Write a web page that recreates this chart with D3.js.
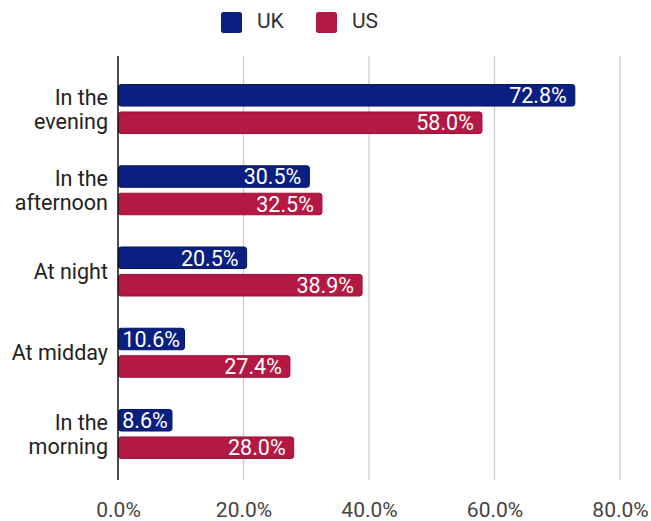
<!DOCTYPE html>
<html>
<head>
<meta charset="utf-8">
<script src="https://cdn.jsdelivr.net/npm/d3@7"></script>
<style>
    body { margin: 0; background: #fff; }
    svg text { font-family: Roboto, "Noto Sans", sans-serif; }
</style>
</head>
<body>
<div class="bar-chart"></div>
<script>
    let categories = [["In the", "evening"], ["In the", "afternoon"], ["At night"], ["At midday"], ["In the", "morning"]];
    let seriesNames = ["UK", "US"];
    let ukValues = [72.8, 30.5, 20.5, 10.6, 8.6];
    let usValues = [58.0, 32.5, 38.9, 27.4, 28.0];
    let xTicks = [0, 20, 40, 60, 80];
    let seriesColors = ["#0a1f82", "#b31942"];
    let seriesStroke = ["#061760", "#9c1236"];

    let svg = d3.select(".bar-chart").append("svg")
        .attr("width", 651).attr("height", 521);

    let margin = {top: 56, left: 118, right: 31, bottom: 41},
        width = 651 - margin.left - margin.right,
        g = svg.append("g").attr("transform", "translate(" + margin.left + ",0)");

    let keys = categories.map(function (d) { return d.join(" "); });

    let x = d3.scaleLinear().domain([0, 80]).range([0, width]);

    let y0 = d3.scaleBand().domain(keys)
        .range([68.4, 474.6])
        .paddingInner(0.3845).paddingOuter(0.19225);

    let y1 = d3.scaleBand().domain(seriesNames)
        .range([0, y0.bandwidth()])
        .paddingInner(0.18);

    // gridlines
    g.append("g")
        .selectAll("line")
        .data(xTicks.slice(1))
        .enter().append("line")
        .attr("x1", function (d) { return x(d); })
        .attr("x2", function (d) { return x(d); })
        .attr("y1", margin.top).attr("y2", 480)
        .attr("stroke", "#cccccc").attr("stroke-width", 1.3);

    let rows = keys.map(function (k, i) {
        return {key: k, lines: categories[i], values: [ukValues[i], usValues[i]]};
    });

    let groups = g.append("g").selectAll("g")
        .data(rows)
        .enter().append("g")
        .attr("transform", function (d) { return "translate(0," + y0(d.key) + ")"; });

    let bars = groups.selectAll("g")
        .data(function (d) {
            return d.values.map(function (v, i) { return {name: seriesNames[i], value: v, idx: i}; });
        })
        .enter().append("g");

    bars.append("rect")
        .attr("x", 0.5)
        .attr("y", function (d) { return y1(d.name) + 0.5; })
        .attr("width", function (d) { return x(d.value) - 0.5; })
        .attr("height", y1.bandwidth() - 1)
        .attr("rx", 2.5)
        .attr("fill", function (d) { return seriesColors[d.idx]; })
        .attr("stroke", function (d) { return seriesStroke[d.idx]; })
        .attr("stroke-width", 1);

    bars.append("text")
        .attr("y", function (d) { return y1(d.name) + y1.bandwidth() / 2; })
        .attr("dy", "0.36em")
        .attr("text-anchor", "end")
        .attr("fill", "#ffffff")
        .attr("font-size", "21.5px")
        .attr("font-weight", 400)
        .text(function (d) { return d.value.toFixed(1) + "%"; })
        .attr("x", function (d) {
            // shrink the right padding when the label barely fits
            let room = x(d.value) - this.getComputedTextLength();
            return x(d.value) - Math.max(1.5, Math.min(8, room / 2));
        });

    // category labels
    groups.append("text")
        .attr("x", -10)
        .attr("text-anchor", "end")
        .attr("fill", "#222222")
        .attr("font-size", "21.5px")
        .each(function (d) {
            let t = d3.select(this),
                mid = y0.bandwidth() / 2,
                lh = 24,
                start = mid - (d.lines.length - 1) * lh / 2;
            d.lines.forEach(function (line, i) {
                t.append("tspan")
                    .attr("x", -10)
                    .attr("y", start + i * lh)
                    .attr("dy", "0.36em")
                    .text(line);
            });
        });

    // axis line
    g.append("line")
        .attr("x1", 0).attr("x2", 0)
        .attr("y1", margin.top).attr("y2", 480)
        .attr("stroke", "#111111").attr("stroke-width", 1.5);

    // x axis labels
    let xAxis = g.append("g")
        .attr("transform", "translate(0,480)")
        .call(d3.axisBottom(x).tickValues(xTicks).tickSize(0).tickPadding(0)
            .tickFormat(function (d) { return d.toFixed(1) + "%"; }));
    xAxis.select(".domain").remove();
    xAxis.selectAll("text")
        .attr("y", 37).attr("dy", 0)
        .attr("font-size", "21px")
        .attr("fill", "#444444")
        .attr("font-family", "Roboto, sans-serif");

    // legend
    let legend = svg.append("g").selectAll("g")
        .data(seriesNames)
        .enter().append("g")
        .attr("transform", function (d, i) { return "translate(" + (221 + i * 95) + ",12)"; });

    legend.append("rect")
        .attr("width", 21).attr("height", 21).attr("rx", 2.5)
        .attr("fill", function (d, i) { return seriesColors[i]; });

    legend.append("text")
        .attr("x", 36).attr("y", 16.3)
        .attr("font-size", "21px")
        .attr("fill", "#333333")
        .text(function (d) { return d; });
</script>
</body>
</html>
